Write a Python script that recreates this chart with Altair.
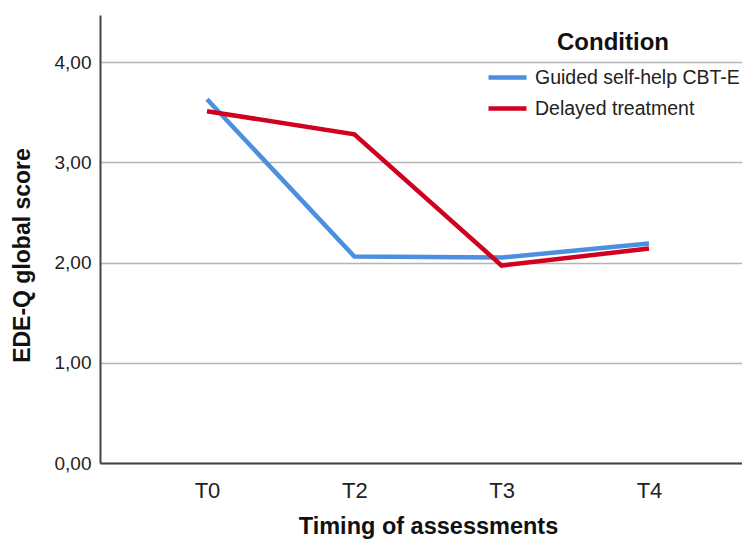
import altair as alt
import pandas as pd

timing = ["T0", "T2", "T3", "T4"]
conditions = ["Guided self-help CBT-E", "Delayed treatment"]
guided = [3.63, 2.06, 2.05, 2.19]
delayed = [3.51, 3.28, 1.97, 2.14]
colors = ["#4A8FE0", "#D1001F"]

rows = []
for t, g, d in zip(timing, guided, delayed):
    rows.append({"Timing": t, "Condition": conditions[0], "Score": g})
    rows.append({"Timing": t, "Condition": conditions[1], "Score": d})
df = pd.DataFrame(rows)

chart = alt.Chart(df).mark_line(strokeWidth=4.5).encode(
    x=alt.X("Timing:N", sort=timing,
            scale=alt.Scale(type="point", padding=0.679, align=0.535),
            axis=alt.Axis(title="Timing of assessments", labelAngle=0,
                          labelFontSize=22, labelPadding=17, ticks=False,
                          titleFontSize=23.5, titleFontWeight="bold", titlePadding=13,
                          titleX=328,
                          domainColor="#444444", domainWidth=2, grid=False,
                          labelColor="#222222", titleColor="#111111",
                          labelFont="Liberation Sans", titleFont="Liberation Sans")),
    y=alt.Y("Score:Q", scale=alt.Scale(domain=[0, 4.47], nice=False),
            axis=alt.Axis(title="EDE-Q global score", values=[0, 1, 2, 3, 4],
                          labelExpr="replace(format(datum.value, '.2f'), '.', ',')",
                          labelFontSize=19, labelPadding=9, ticks=False,
                          titleFontSize=23, titleFontWeight="bold",
                          titleX=-66, titleY=240,
                          domainColor="#444444", domainWidth=2,
                          gridColor="#b4b4b4", gridWidth=1.6,
                          labelColor="#222222", titleColor="#111111",
                          labelFont="Liberation Sans", titleFont="Liberation Sans")),
    color=alt.Color("Condition:N", sort=conditions,
                    scale=alt.Scale(domain=conditions, range=colors),
                    legend=alt.Legend(orient="none", legendX=386, legendY=16,
                                      title="Condition", titleFontSize=24,
                                      titleFontWeight="bold", titleAnchor="middle",
                                      titlePadding=1, titleColor="#111111",
                                      labelFontSize=19.5, labelColor="#222222",
                                      labelFont="Liberation Sans", titleFont="Liberation Sans",
                                      symbolType="stroke", symbolSize=1444,
                                      symbolStrokeWidth=4.5, labelOffset=6,
                                      rowPadding=-14, labelLimit=400)),
).properties(
    width=642, height=448,
    autosize=alt.AutoSizeParams(type="none"),
    padding={"left": 92, "top": 7, "right": 0, "bottom": 77},
).configure_view(stroke=None)

chart.save("out.html", embed_options={"renderer": "svg", "actions": False})
